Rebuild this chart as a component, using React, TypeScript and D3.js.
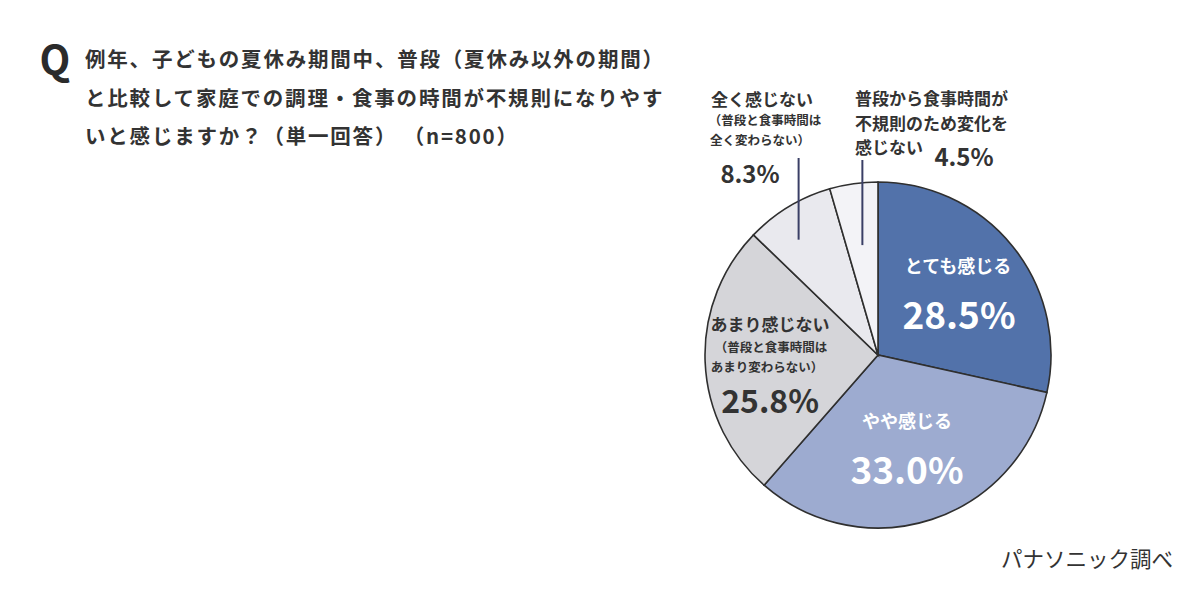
import * as d3 from "d3"

const categories = ["とても感じる", "やや感じる", "あまり感じない", "全く感じない", "普段から食事時間が不規則のため変化を感じない"]
const values = [28.5, 33.0, 25.8, 8.3, 4.5]
const colors = ["#5272aa", "#9dabd0", "#d5d5d9", "#e9e9ee", "#f3f3f7"]
const titleLines = [
  "例年、子どもの夏休み期間中、普段（夏休み以外の期間）",
  "と比較して家庭での調理・食事の時間が不規則になりやす",
  "いと感じますか？（単一回答） （n=800）",
]

const W = 1200
const H = 590
const FONT = "'Noto Sans CJK JP', 'Noto Sans', sans-serif"
const cx = 878
const cy = 355
const R = 173

const fmt = (v: number) => `${v.toFixed(1)}%`

export default function App() {
  const pie = d3.pie<number>().sort(null).value(d => d)
  const arcs = pie(values)
  const arc = d3.arc<d3.PieArcDatum<number>>().innerRadius(0).outerRadius(R)
  const labelArc = (r: number) => d3.arc<d3.PieArcDatum<number>>().innerRadius(r).outerRadius(r)

  const c0 = labelArc(100).centroid(arcs[0])
  const c1 = labelArc(93).centroid(arcs[1])
  const c2 = labelArc(108).centroid(arcs[2])
  // leader lines start inside the small slices, a bit before their middle
  const mid = (a: d3.PieArcDatum<number>) => (a.startAngle + a.endAngle) / 2
  const l3 = d3.pointRadial(mid(arcs[3]) - 0.06, 140)
  const l4 = d3.pointRadial(mid(arcs[4]), 111)

  return (
    <svg width={W} height={H} viewBox={`0 0 ${W} ${H}`}
      style={{ position: "absolute", left: 0, top: 0, background: "#fff", fontFamily: FONT }}>
      <text x={55} y={58} fontSize={40} fontWeight={700} fill="#2b2b2b" textAnchor="middle" dominantBaseline="central">Q</text>
      {titleLines.map((t, i) => (
        <text key={i} x={85} y={58 + i * 38.5} fontSize={20.5} fontWeight={700} fill="#333"
          letterSpacing={1.8} dominantBaseline="central">{t}</text>
      ))}

      <g transform={`translate(${cx},${cy})`}>
        {arcs.map((a, i) => (
          <path key={categories[i]} d={arc(a) || ""} fill={colors[i]} stroke="#2f2f2f" strokeWidth={1.6} />
        ))}
        <line x1={l3[0]} x2={l3[0]} y1={l3[1]} y2={-197} stroke="#3a3f66" strokeWidth={2} />
        <line x1={l4[0]} x2={l4[0]} y1={l4[1]} y2={-195} stroke="#3a3f66" strokeWidth={2} />

        <g fill="#fff" fontWeight={700} textAnchor="middle" dominantBaseline="central">
          <text x={c0[0] + 2} y={c0[1] - 27} fontSize={18}>{categories[0]}</text>
          <text x={c0[0] + 3} y={c0[1] + 21} fontSize={37} fontWeight={600}>{fmt(values[0])}</text>
          <text x={c1[0]} y={c1[1] - 23} fontSize={18}>{categories[1]}</text>
          <text x={c1[0]} y={c1[1] + 25} fontSize={37} fontWeight={600}>{fmt(values[1])}</text>
        </g>
        <g fill="#333" fontWeight={700} textAnchor="middle" dominantBaseline="central">
          <text x={c2[0]} y={c2[1] - 36} fontSize={17}>{categories[2]}</text>
          <text x={c2[0] + 1} y={c2[1] - 13} fontSize={12.5}>（普段と食事時間は</text>
          <text x={c2[0] - 3} y={c2[1] + 7} fontSize={12.5}>あまり変わらない）</text>
          <text x={c2[0]} y={c2[1] + 39} fontSize={32} fontWeight={600}>{fmt(values[2])}</text>
        </g>
      </g>

      <g fill="#333" fontWeight={700} dominantBaseline="central">
        <text x={762} y={98} fontSize={17} textAnchor="middle">{categories[3]}</text>
        <text x={765} y={119} fontSize={12.5} textAnchor="middle">（普段と食事時間は</text>
        <text x={760} y={139} fontSize={12.5} textAnchor="middle">全く変わらない）</text>
        <text x={750} y={172} fontSize={24} fontWeight={600} textAnchor="middle">{fmt(values[3])}</text>

        <text x={855} y={97} fontSize={17}>普段から食事時間が</text>
        <text x={855} y={122} fontSize={17}>不規則のため変化を</text>
        <text x={855} y={146} fontSize={17}>感じない</text>
        <text x={964} y={155} fontSize={24} fontWeight={600} textAnchor="middle">{fmt(values[4])}</text>
      </g>

      <text x={1173} y={557} fontSize={21.5} fill="#333" textAnchor="end" dominantBaseline="central">パナソニック調べ</text>
    </svg>
  )
}
